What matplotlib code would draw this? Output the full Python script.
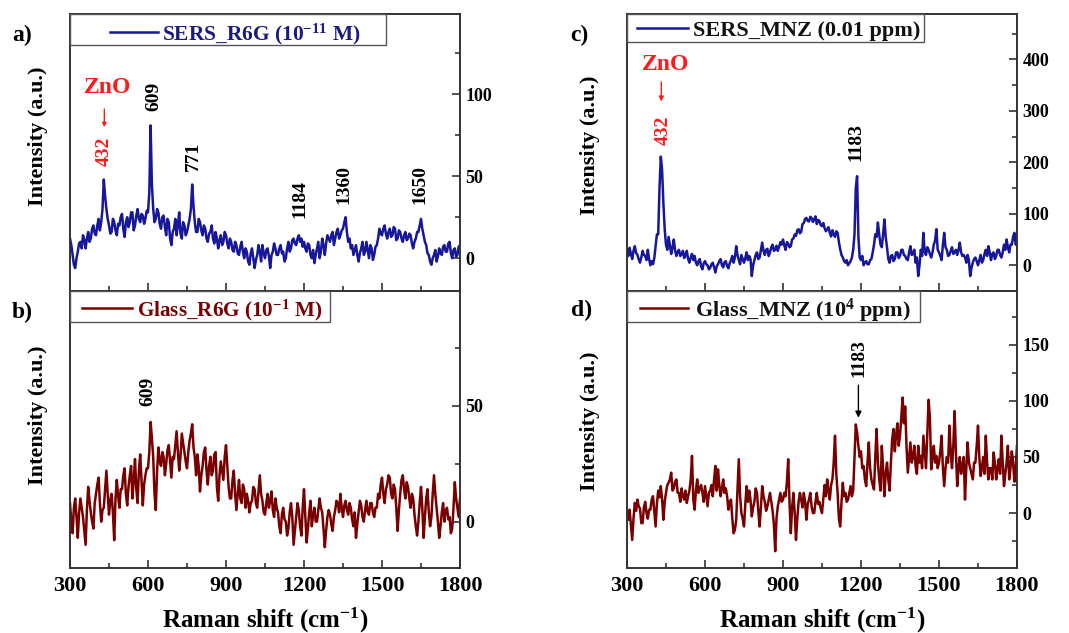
import numpy as np
import matplotlib
matplotlib.use("Agg")
import matplotlib.pyplot as plt
from matplotlib.ticker import MultipleLocator
from matplotlib.patches import Rectangle
from matplotlib.lines import Line2D

plt.rcParams['font.family'] = ['Liberation Serif', 'DejaVu Serif']
plt.rcParams['font.weight'] = 'bold'
plt.rcParams['mathtext.fontset'] = 'custom'
plt.rcParams['mathtext.rm'] = 'Liberation Serif:bold'
plt.rcParams['mathtext.it'] = 'Liberation Serif:bold'
plt.rcParams['mathtext.bf'] = 'Liberation Serif:bold'

# ---------------- data ----------------
raman_shift = np.arange(300, 1801, 5)

sers_r6g = [
    12, 8, 2, -4, -6, 0, 4, 9, 10, 6, 14, 11, 6, 12, 16, 10, 12, 18, 20, 15,
    14, 20, 24, 17, 22, 30, 48, 38, 30, 24, 20, 15, 16, 24, 22, 17, 14, 21, 20, 25,
    27, 18, 13, 22, 25, 19, 22, 28, 28, 17, 20, 26, 30, 24, 22, 27, 26, 21, 24, 29,
    28, 40, 81, 45, 30, 22, 24, 30, 28, 21, 18, 25, 26, 19, 14, 24, 22, 12, 8, 16,
    18, 24, 14, 20, 28, 15, 12, 22, 20, 14, 16, 20, 24, 30, 45, 32, 22, 16, 16, 24,
    22, 17, 14, 20, 18, 12, 10, 15, 16, 20, 12, 9, 16, 12, 6, 11, 14, 8, 10, 16,
    14, 9, 6, 12, 10, 5, 4, 10, 8, 3, 2, 7, 10, 4, 0, 6, 4, -2, -4, 3,
    6, 0, -6, -1, 2, 8, 4, -2, 8, 3, 0, 5, 6, 1, -6, 2, 4, 9, 6, 2,
    2, 6, 8, 3, 4, -2, 0, 6, 10, 4, 6, 11, 12, 9, 8, 12, 14, 10, 12, 7,
    10, 6, 4, 9, 8, 2, 0, 5, -3, 2, 6, 10, 0, 4, 12, 8, 2, 9, 14, 12,
    10, 14, 16, 8, 12, 16, 18, 12, 14, 17, 18, 22, 25, 16, 10, 12, 6, 8, 2, 5,
    8, 2, -2, 3, 6, 10, 2, 4, 10, 5, 0, 8, 6, -1, 2, 7, 8, 12, 18, 15,
    14, 18, 20, 15, 12, 16, 18, 13, 14, 19, 18, 11, 12, 17, 16, 12, 10, 14, 16, 11,
    12, 15, 14, 9, 6, 10, 12, 16, 16, 20, 24, 18, 14, 10, 8, 3, 2, -2, -4, 0,
    2, 5, -2, 1, 6, 3, 2, 7, 8, 4, 4, 9, 10, 3, 0, 5, 6, 1, 2, 7,
    8]

glass_r6g = [
    8, 0, -5, 6, 10, 2, -7, 4, 10, 6, 2, -4, -10, 5, 15, 9, 4, 0, -3, 8,
    12, 16, 19, 8, 0, 5, 6, 14, 22, 12, 3, 9, 12, 4, -8, 10, 18, 11, 6, 14,
    14, 20, 23, 12, 7, 15, 20, 24, 10, 18, 27, 14, 8, 22, 29, 18, 7, 16, 20, 23,
    23, 30, 43, 36, 28, 12, 5, 22, 32, 26, 24, 30, 28, 20, 25, 31, 33, 26, 19, 28,
    27, 33, 39, 30, 22, 28, 38, 34, 30, 26, 23, 30, 35, 38, 42, 32, 28, 20, 29, 24,
    13, 20, 24, 30, 32, 22, 16, 24, 28, 20, 22, 29, 30, 15, 9, 20, 26, 22, 18, 28,
    33, 24, 15, 10, 10, 18, 22, 12, 5, 12, 18, 10, 8, 16, 14, 6, 12, 9, 4, 8,
    9, 15, 14, 8, 6, 13, 20, 12, 9, 4, 3, 8, 12, 6, 9, 13, 5, 2, 10, 6,
    4, -2, -5, 3, 6, 1, 0, -6, -3, 4, 8, 2, -10, -4, 2, 8, 5, -2, -6, 6,
    14, 2, -9, -3, 4, 9, -2, 3, 6, 0, 0, 5, 10, 6, 4, -3, -11, -4, 2, 5,
    3, -1, -4, 2, 5, 9, 8, 4, 12, 6, 2, 7, 9, 5, 3, 8, 6, 1, -2, 4,
    -7, -1, 4, 9, 7, 2, 0, 5, 9, 4, 3, 8, 8, 4, 2, 6, 6, 12, 10, 16,
    19, 12, 8, 14, 16, 20, 19, 12, 10, 16, 14, 6, -4, 5, 12, 18, 20, 14, 10, 17,
    15, 10, 6, 12, 10, 3, -2, -6, 0, 8, 15, 6, -7, 2, 10, 14, 4, -2, 2, 12,
    20, 12, 6, 0, -7, -2, 4, 8, 0, 5, 6, 1, 2, -5, -3, 6, 17, 10, 6, 2,
    10]

sers_mnz = [
    25, 18, 34, 22, 12, 28, 37, 24, 20, 12, 5, 15, 28, 20, 18, 10, 30, 12, 0, 8,
    2, 14, 37, 60, 60, 150, 211, 185, 120, 70, 40, 30, 55, 38, 22, 35, 50, 28, 18, 26,
    30, 18, 21, 28, 14, 20, 28, 12, 5, 15, 22, 10, 18, 5, 0, 8, 12, -2, -8, 4,
    8, 2, 0, -8, -5, 2, 5, -4, -14, -2, 2, 8, 12, 0, -4, 6, 8, -2, -6, 4,
    10, 18, 5, 15, 37, 20, 10, 2, 20, 12, 5, 14, 25, 10, 18, 12, -21, 0, 10, 20,
    25, 12, 15, 30, 44, 28, 20, 30, 32, 18, 25, 35, 40, 28, 30, 38, 28, 36, 45, 40,
    50, 38, 30, 45, 42, 35, 37, 50, 52, 60, 57, 68, 70, 62, 65, 80, 82, 90, 92, 86,
    85, 94, 92, 84, 89, 95, 80, 88, 86, 78, 76, 82, 72, 66, 70, 74, 63, 56, 68, 60,
    55, 66, 63, 45, 31, 20, 15, 8, 5, 10, 0, 4, 8, 15, 30, 60, 150, 173, 55, 15,
    10, 18, 0, 6, 8, 2, 2, 10, 12, 25, 40, 60, 55, 83, 60, 40, 35, 60, 89, 55,
    35, 12, 5, 18, 20, 8, 12, 25, 25, 14, 18, 30, 30, 20, 18, 12, 10, 25, 37, 20,
    22, 30, 5, 15, -21, 0, 30, 18, 63, 25, 20, 35, 30, 22, 15, 25, 40, 48, 70, 30,
    25, 18, 10, 40, 63, 35, 30, 18, 20, 28, 35, 22, 25, 30, 20, 30, 44, 25, 18, 20,
    15, 5, 20, 10, -21, -5, 5, 12, 15, 8, 0, 10, 20, 5, 10, 22, 30, 18, 37, 25,
    10, 22, 25, 12, 18, 30, 30, 20, 15, 25, 40, 30, 50, 35, 25, 40, 40, 55, 63, 40,
    45]

glass_mnz = [
    0, -6, 3, -10, -24, -5, 9, 2, 12, 6, 4, -9, -9, 5, 10, 0, -5, 3, 3, 12,
    15, 2, -12, 8, 20, 14, 24, 12, -6, 10, 18, 25, 27, 30, 36, 20, 22, 28, 30, 18,
    18, 10, 22, 15, 12, 20, 9, 15, 20, 30, 51, 12, 3, 20, 30, 18, 22, 25, 18, 10,
    24, 15, 6, 18, 20, 25, 15, 30, 42, 20, 39, 25, 15, 22, 30, 18, 22, 15, 3, 10,
    12, -5, -18, -15, -6, 20, 48, 15, 0, -5, -12, 8, 24, 10, 20, 12, -3, 5, 10, 22,
    18, 2, -12, 5, 24, 15, 10, 2, 6, 12, 18, 10, 2, -10, -34, -5, 6, 12, 18, 10,
    12, 18, 15, 28, 48, 10, -18, 5, 18, 0, -24, -5, 10, 18, 12, 5, 18, 10, -6, 8,
    12, 18, 6, 0, 0, 10, 18, 8, 10, 4, 0, 12, 25, 15, 30, 20, 12, 25, 30, 45,
    69, 35, 18, -5, -12, 10, 27, 15, 18, 10, 12, 18, 24, 15, 20, 50, 79, 72, 60, 50,
    55, 40, 42, 30, 24, 45, 63, 40, 30, 25, 21, 50, 75, 45, 30, 20, 60, 40, 15, 35,
    45, 30, 20, 45, 66, 75, 55, 70, 80, 60, 69, 85, 103, 80, 95, 60, 36, 50, 63, 45,
    50, 60, 42, 35, 60, 45, 51, 40, 69, 55, 40, 70, 101, 85, 39, 50, 60, 45, 51, 40,
    45, 55, 69, 40, 24, 40, 50, 45, 78, 55, 40, 60, 91, 55, 24, 40, 50, 35, 42, 50,
    12, 40, 63, 45, 40, 35, 30, 45, 45, 60, 78, 50, 33, 40, 50, 35, 69, 45, 30, 40,
    40, 30, 54, 45, 30, 40, 48, 35, 69, 45, 24, 35, 45, 60, 30, 40, 55, 45, 28, 40,
    60]

for _s in (sers_r6g, glass_r6g, sers_mnz, glass_mnz):
    assert len(_s) == len(raman_shift), len(_s)

BLUE = '#17179a'
DRED = '#7a0000'
RED = '#ff1a1a'
FRAME = '#333333'

W, H = 1069, 633
fig = plt.figure(figsize=(W / 100, H / 100), dpi=100)


def make_ax(l, t, r, b):
    return fig.add_axes([l / W, 1 - b / H, (r - l) / W, (b - t) / H])


ax_a = make_ax(70, 14, 460, 291)
ax_b = make_ax(70, 291, 460, 568)
ax_c = make_ax(627, 14, 1017, 291)
ax_d = make_ax(627, 291, 1017, 568)

panels = [
    (ax_a, sers_r6g, BLUE, (-20, 149), 50, 25),
    (ax_b, glass_r6g, DRED, (-20, 99.5), 50, 25),
    (ax_c, sers_mnz, BLUE, (-50, 488), 100, 50),
    (ax_d, glass_mnz, DRED, (-49, 198), 50, 25),
]

for ax, y, col, ylim, maj, mnr in panels:
    ax.plot(raman_shift, y, color=col, lw=1.8)
    ax.set_xlim(300, 1800)
    ax.set_ylim(*ylim)
    ax.xaxis.set_major_locator(MultipleLocator(300))
    ax.xaxis.set_minor_locator(MultipleLocator(150))
    ax.yaxis.set_major_locator(MultipleLocator(maj))
    ax.yaxis.set_minor_locator(MultipleLocator(mnr))
    ax.yaxis.tick_right()
    ax.tick_params(axis='both', which='both', direction='in', color=FRAME,
                   width=1.2, top=False, left=False, right=True, bottom=True)
    ax.tick_params(axis='both', which='major', length=6)
    ax.tick_params(axis='both', which='minor', length=3.5)
    ax.tick_params(axis='y', labelsize=13, pad=4)
    ax.tick_params(axis='x', labelsize=16, pad=6)
    for s in ax.spines.values():
        s.set_color(FRAME)
        s.set_linewidth(1.4)

ax_a.tick_params(axis='x', labelbottom=False)
ax_c.tick_params(axis='x', labelbottom=False)

# ---- legends (boxes drawn in pixel layout of the reference) ----
legends = [
    ((70, 14, 386, 45), (110, 158), 32, 162, 40, 'SERS_R6G (10$^{-11}$ M)', BLUE, '#1a1a80', 15.4),
    ((70, 291, 330, 322), (82, 132), 308, 137, 316, 'Glass_R6G (10$^{-1}$ M)', DRED, DRED, 15.2),
    ((627, 14, 924, 42), (637, 688), 28, 693, 36, 'SERS_MNZ (0.01 ppm)', BLUE, '#111111', 16),
    ((627, 291, 920, 322), (640, 688), 308, 695, 317, 'Glass_MNZ (10$^{4}$ ppm)', DRED, '#111111', 16),
]
for (l, t, r, b), (h0, h1), hy, tx, ty, lab, lcol, tcol, fs in legends:
    fig.add_artist(Rectangle((l / W, 1 - b / H), (r - l) / W, (b - t) / H,
                             transform=fig.transFigure, facecolor='white',
                             edgecolor='#555555', lw=1.0, zorder=5))
    fig.add_artist(Line2D([h0 / W, h1 / W], [1 - hy / H, 1 - hy / H],
                          transform=fig.transFigure, color=lcol, lw=1.8, zorder=6))
    fig.text(tx / W, 1 - ty / H, lab, color=tcol, fontsize=fs, ha='left',
             va='baseline', zorder=7)

# annotations panel a
ax_a.text(446, 104, 'ZnO', color=RED, fontsize=17, ha='center', va='center')
ax_a.annotate('', xy=(432, 80), xytext=(432, 91),
              arrowprops=dict(arrowstyle='-|>', color=RED, lw=1.0, mutation_scale=6,
                              shrinkA=0, shrinkB=0))
ax_a.text(432, 65, '432', color=RED, fontsize=14, rotation=90, ha='center', va='center')
for xx, yy, s in [(622, 99, '609'), (775, 62, '771'), (1185, 36, '1184'),
                  (1354, 45, '1360'), (1646, 45, '1650')]:
    ax_a.text(xx, yy, s, color='black', fontsize=14, rotation=90, ha='center', va='center')

# panel b
ax_b.text(600, 56, '609', color='black', fontsize=14, rotation=90, ha='center', va='center')

# panel c
ax_c.text(447, 390, 'ZnO', color=RED, fontsize=17, ha='center', va='center')
ax_c.annotate('', xy=(432, 318), xytext=(432, 356),
              arrowprops=dict(arrowstyle='-|>', color=RED, lw=1.0, mutation_scale=7,
                              shrinkA=0, shrinkB=0))
ax_c.text(438, 263, '432', color=RED, fontsize=14, rotation=90, ha='center', va='center')
ax_c.text(1182, 239, '1183', color='black', fontsize=14, rotation=90, ha='center', va='center')

# panel d
ax_d.text(1193, 138, '1183', color='black', fontsize=14, rotation=90, ha='center', va='center')
ax_d.annotate('', xy=(1190, 85), xytext=(1190, 114),
              arrowprops=dict(arrowstyle='-|>', color='black', lw=1.0, mutation_scale=9,
                              shrinkA=0, shrinkB=0))

# panel letters
for xp, yp, s in [(22, 35, 'a)'), (22, 312, 'b)'), (579, 35, 'c)'), (582, 310, 'd)')]:
    fig.text(xp / W, 1 - yp / H, s, fontsize=17, ha='center', va='center')

# y labels
for xp, yp in [(38, 136), (38, 415), (590, 145), (590, 421)]:
    fig.text(xp / W, 1 - yp / H, 'Intensity (a.u.)', fontsize=16, rotation=90,
             ha='center', va='center')

# x labels
for xp in [265, 822]:
    fig.text(xp / W, 1 - 620 / H, 'Raman shift (cm$^{-1}$)', fontsize=18,
             ha='center', va='center')

fig.savefig('out.png', dpi=100, facecolor='white')
